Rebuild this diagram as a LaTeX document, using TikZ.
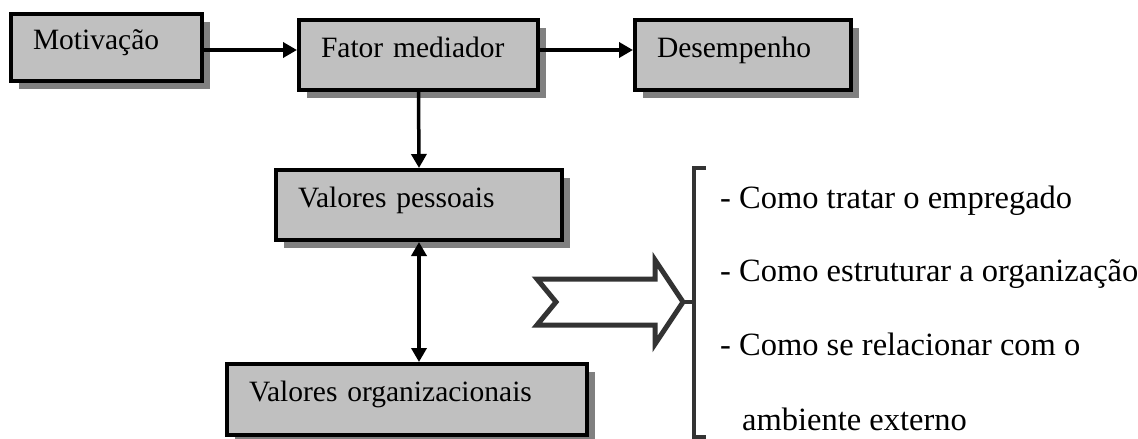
\documentclass[tikz,border=0pt]{standalone}
\usepackage{fontspec}
\setmainfont{Liberation Serif}
\usetikzlibrary{arrows.meta,shadows}
\definecolor{boxgray}{HTML}{C0C0C0}
\definecolor{shadowgray}{HTML}{808080}
\definecolor{inkgray}{HTML}{333333}
\begin{document}
\begin{tikzpicture}[x=1pt,y=-1pt,
  bx/.style={draw=black, line width=4pt, fill=boxgray,
    inner xsep=22pt, inner ysep=0pt, align=left,
    text height=20pt, text depth=16pt,
    font=\fontsize{29.5}{35}\selectfont,
    drop shadow={shadow xshift=8pt, shadow yshift=-8pt, fill=shadowgray, opacity=1}},
  arr/.style={line width=3.5pt, -{Triangle[length=14pt,width=15pt]}},
  darr/.style={line width=3.5pt, {Triangle[length=14pt,width=15pt]}-{Triangle[length=14pt,width=15pt]}},
  lst/.style={anchor=base west, inner sep=0pt, font=\fontsize{32.5}{38}\selectfont},
  ink/.style={draw=inkgray, line width=5pt, miter limit=10}]
\useasboundingbox (0,0) rectangle (1138,439);

% boxes
\node[bx, text width=147pt, minimum height=67pt] (mot) at (106.5,47.5) {Motivação};
\node[bx, text width=195pt, minimum height=70pt] (fat) at (418.5,55) {Fator mediador};
\node[bx, text width=172pt, minimum height=70pt] (des) at (743,55) {Desempenho};
\node[bx, text width=242pt, minimum height=70pt] (vp) at (419,205) {Valores pessoais};
\node[bx, text width=316pt, minimum height=71pt] (vo) at (407,399.5) {Valores organizacionais};

% connectors
\coordinate (ytop) at (0,50);
\draw[arr] (mot.east |- ytop) -- (fat.west |- ytop);
\draw[arr] (fat.east |- ytop) -- (des.west |- ytop);
\draw[arr] (fat.south) -- (vp.north);
\draw[darr] (vp.south) -- (vp.south |- vo.north);

% hollow notched arrow
\coordinate (tip) at (683,302);
\draw[ink, fill=white, line join=miter]
  (537,279) -- (655,279) -- (655,260) -- (tip) -- (655,344) -- (655,325)
  -- (537,325) -- (556,302) -- cycle;

% bracket
\coordinate (bt) at (694,168);
\coordinate (bb) at (694,437);
\draw[draw=inkgray, line width=4.5pt, line join=miter]
  ([xshift=12pt]bt) -- (bt) -- (bb) -- ([xshift=12pt]bb);
\draw[draw=inkgray, line width=4.5pt] (tip) -- (tip -| bt);

% list
\node[lst] (l1) at (720,208) {- Como tratar o empregado};
\node[lst] (l2) at (720,281) {- Como estruturar a organização};
\node[lst] (l3) at (720,355) {- Como se relacionar com o};
\node[lst] (l4) at (720,430) {\hspace*{22pt}ambiente externo};
\end{tikzpicture}
\end{document}
